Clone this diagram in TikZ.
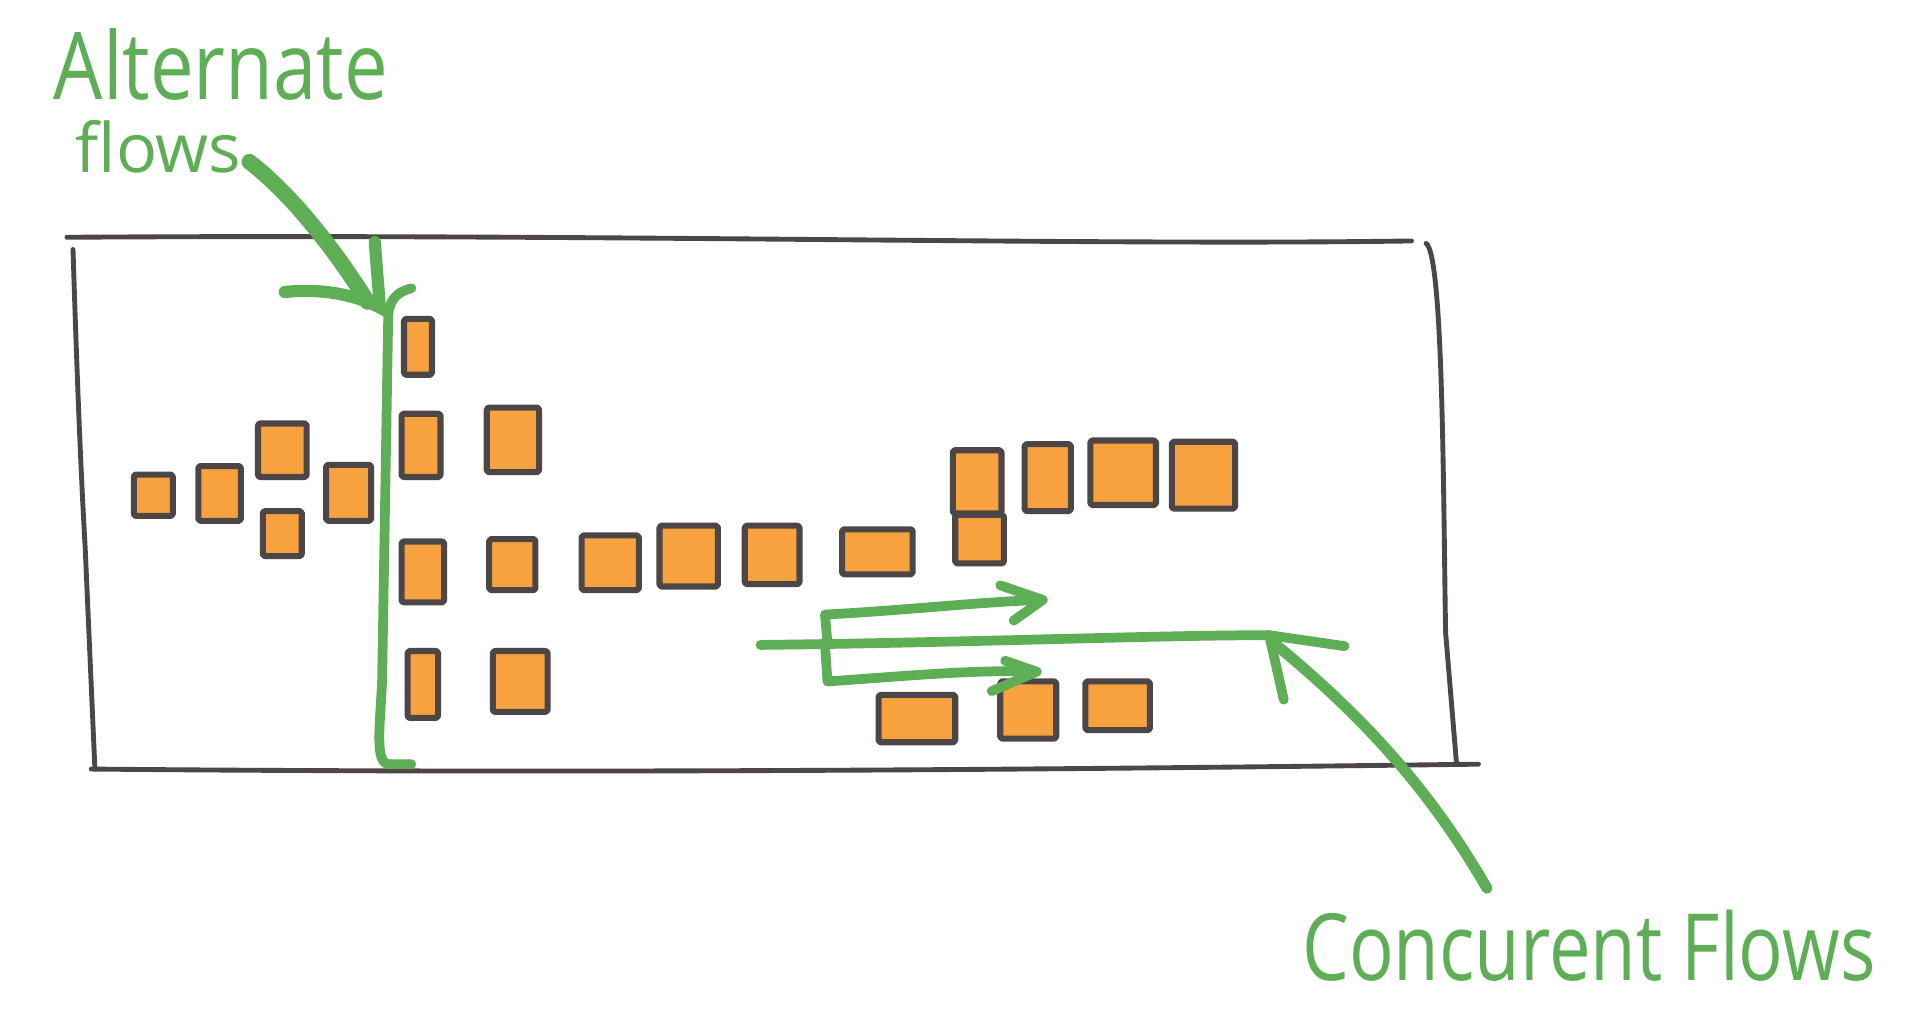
\documentclass[tikz,border=0pt]{standalone}
\usepackage{graphicx}
\usepackage{fontspec}
\setmainfont{Open Sans}
\definecolor{pen}{HTML}{4D4647}
\definecolor{grn}{HTML}{5DAE55}
\definecolor{org}{HTML}{F7A23E}
\newcommand\bx[5]{\node[box,minimum width=#4pt,minimum height=#5pt] (#1) at (#2,#3) {};}
\begin{document}
\begin{tikzpicture}[x=1pt,y=-1pt,
  box/.style={draw=pen,fill=org,line width=5pt,rounded corners=1.5pt,inner sep=0pt,line join=round},
  frame/.style={draw=pen,line width=4pt,line cap=round},
  gline/.style={draw=grn,line width=8pt,line cap=round,line join=round},
  gthick/.style={draw=grn,line width=13pt,line cap=round},
  lbl/.style={text=grn,inner sep=0pt,anchor=base west}]
\useasboundingbox (0,0) rectangle (1568,842);
\fill[white] (0,0) rectangle (1568,842);
% frame
\draw[frame] (55,195) .. controls (500,192) and (900,202) .. (1160,198);
\draw[frame] (60,205) .. controls (63,300) and (66,380) .. (70,450) -- (78,632);
\draw[frame] (1172,200) .. controls (1186,210) and (1186,400) .. (1188,520) -- (1197,628);
\draw[frame] (75,632) .. controls (500,636) and (900,632) .. (1215,628);
% boxes
\bx{b1}{126}{407}{32}{34}
\bx{b2}{180.5}{405.5}{35}{45}
\bx{b3}{232}{370}{40}{44}
\bx{b4}{232}{438.5}{32}{37}
\bx{b5}{286.5}{405}{37}{46}
\bx{b6}{343.5}{285}{23}{46}
\bx{b7}{346}{366}{32}{52}
\bx{b8}{421.5}{361.5}{43}{53}
\bx{b9}{347.5}{470}{35}{50}
\bx{b10}{421}{464}{38}{42}
\bx{b11}{347.5}{562.5}{25}{55}
\bx{b12}{427.5}{560}{45}{50}
\bx{b13}{501.5}{462.5}{47}{45}
\bx{b14}{566}{457}{48}{50}
\bx{b15}{634.5}{456}{45}{48}
\bx{b16}{721}{453.5}{58}{37}
\bx{b17}{803}{396}{40}{52}
\bx{b18}{805}{443}{40}{40}
\bx{b19}{861}{392.5}{38}{55}
\bx{b20}{923}{388.5}{54}{53}
\bx{b21}{989}{390.5}{52}{55}
\bx{b22}{753.5}{590.5}{63}{39}
\bx{b23}{845}{583.5}{46}{47}
\bx{b24}{918.5}{580}{53}{40}
% alternate flows
\node[lbl] (alt) at (44,82) {\scalebox{1}[1.2]{\fontsize{64}{64}\selectfont Alternate}};
\node[lbl] (flw) at (62,142) {\fontsize{56}{56}\selectfont flows};
\draw[gthick] (205,133) .. controls (240,160) and (275,205) .. (302,248);
\draw[gline,line width=10pt] (234,240) .. controls (270,236) and (300,245) .. (318,256);
\draw[gline,line width=10pt] (308,199) -- (312,250);
\draw[gline] (338,237) .. controls (325,240) and (319,248) .. (319,262) -- (314,560) .. controls (312,600) and (308,628) .. (320,628) -- (338,628);
% concurrent flows
\node[lbl] (conc) at (1070,806) {\scalebox{1}[1.25]{\fontsize{61}{61}\selectfont Concurent Flows}};
\draw[gline] (625,530) .. controls (800,528) and (950,522) .. (1043,522);
\draw[gline] (1043,522) -- (1105,531);
\draw[gline] (1043,522) -- (1055,575);
\draw[gthick,line width=9pt] (1222,730) .. controls (1170,640) and (1110,580) .. (1045,527);
\draw[gline] (680,528) -- (678,505) .. controls (740,502) and (800,495) .. (855,493);
\draw[gline] (822,481) -- (857,493) -- (833,510);
\draw[gline] (678,530) -- (680,560) .. controls (740,556) and (800,550) .. (850,552);
\draw[gline] (826,543) -- (852,552) -- (815,568);
\end{tikzpicture}
\end{document}
